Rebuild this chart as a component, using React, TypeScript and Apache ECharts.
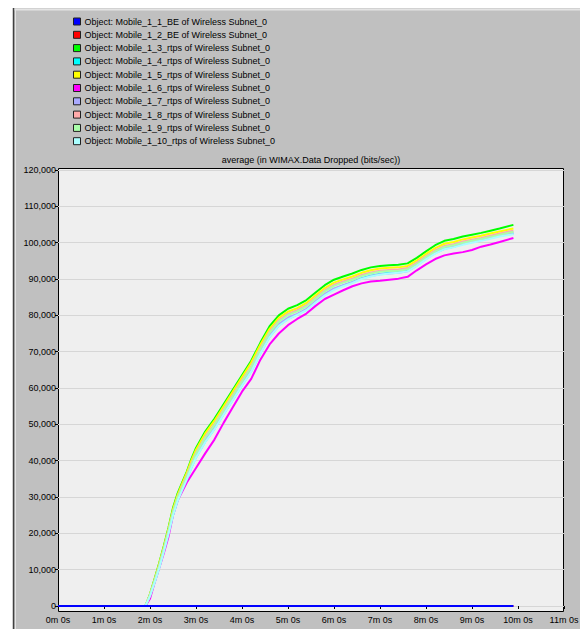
import React, { useEffect, useRef } from "react";
import * as echarts from "echarts";

// time in seconds
const timesRtps = [114,120,126,132,138,144,150,156,162,168,174,180,192,204,216,228,240,252,264,276,288,300,312,324,336,348,360,372,384,396,408,420,432,444,456,468,480,492,504,516,528,540,552,564,576,594];
const timesBE = [0, 594];

const be1 = [0, 0];
const be2 = [0, 0];
const rtps3 = [0,3300,7500,11800,16500,21500,27000,31000,34000,37000,40500,43500,48000,51500,55500,59500,63500,67500,72500,77000,80000,81800,82800,84200,86300,88300,89800,90700,91500,92500,93200,93600,93800,93900,94300,95800,97600,99300,100500,101000,101700,102200,102700,103300,103900,104900];
const rtps4 = [0,2700,6500,10500,15000,19800,25000,29000,32000,34900,38100,40900,45200,48700,52800,56800,60800,64600,69600,74100,77200,79000,80200,81600,83700,85700,87200,88200,89100,90200,90900,91400,91700,91900,92300,93800,95600,97200,98400,98900,99600,100200,100700,101300,101900,102500];
const rtps5 = [0,3200,7300,11600,16200,21200,26600,30600,33700,36700,40100,43000,47500,51000,55000,59000,63000,67000,72000,76300,79300,81000,82000,83400,85500,87500,89000,89900,90700,91700,92400,92900,93100,93200,93600,95100,96900,98500,99700,100200,100900,101400,101900,102500,103100,103900];
const rtps6 = [0,2000,6500,10500,14500,19000,25000,29000,31500,34000,36000,38000,42000,45800,50400,54700,59000,62500,67800,72000,75000,77300,79000,80500,82600,84500,85700,86900,88000,88800,89300,89500,89800,90100,90600,92400,94000,95500,96500,97000,97400,98000,98900,99500,100200,101300];
const rtps7 = [0,2800,6700,10700,15200,20000,25300,29300,32300,35200,38500,41300,45600,49100,53200,57200,61200,65000,70000,74500,77600,79400,80400,81800,83900,85900,87400,88300,89100,90100,90800,91300,91500,91700,92100,93700,95500,97100,98300,98900,99600,100200,100700,101300,101900,102800];
const rtps8 = [0,3000,7000,11200,15800,20700,26000,30000,33000,36000,39300,42200,46600,50100,54100,58100,62100,66000,71000,75500,78600,80400,81400,82800,84900,86900,88400,89300,90100,91100,91800,92300,92500,92600,93000,94500,96300,97900,99100,99600,100300,100800,101300,101900,102500,103300];
const rtps9 = [0,3000,6900,11000,15600,20500,25800,29800,32800,35700,39000,41900,46300,49800,53800,57800,61800,65700,70700,75200,78300,80100,81100,82500,84600,86600,88100,89000,89800,90800,91500,92000,92200,92300,92700,94200,96000,97600,98800,99300,100000,100500,101000,101600,102200,103000];
const rtps10 = [0,2700,6400,10400,14900,19700,24900,28900,31900,34800,38000,40800,45100,48600,52700,56700,60700,64500,69500,74000,77100,78900,80100,81400,83500,85500,87000,88000,88900,90000,90700,91200,91500,91700,92100,93600,95400,97000,98200,98700,99400,100000,100500,101100,101700,102300];

const seriesNames = [
  "Object: Mobile_1_1_BE of Wireless Subnet_0",
  "Object: Mobile_1_2_BE of Wireless Subnet_0",
  "Object: Mobile_1_3_rtps of Wireless Subnet_0",
  "Object: Mobile_1_4_rtps of Wireless Subnet_0",
  "Object: Mobile_1_5_rtps of Wireless Subnet_0",
  "Object: Mobile_1_6_rtps of Wireless Subnet_0",
  "Object: Mobile_1_7_rtps of Wireless Subnet_0",
  "Object: Mobile_1_8_rtps of Wireless Subnet_0",
  "Object: Mobile_1_9_rtps of Wireless Subnet_0",
  "Object: Mobile_1_10_rtps of Wireless Subnet_0",
];
const seriesColors = ["#0000ff","#ff0000","#00ff00","#00ffff","#ffff00","#ff00ff","#aaaaff","#ffaaaa","#aaffaa","#aaffff"];
const seriesValues = [be1, be2, rtps3, rtps4, rtps5, rtps6, rtps7, rtps8, rtps9, rtps10];
const seriesTimes = [timesBE, timesBE, timesRtps, timesRtps, timesRtps, timesRtps, timesRtps, timesRtps, timesRtps, timesRtps];

const chartTitle = "average (in WIMAX.Data Dropped (bits/sec))";

const FONT = '"Liberation Sans", Arial, sans-serif';
const FS = 9;

export default function App() {
  const ref = useRef<HTMLDivElement>(null);
  useEffect(() => {
    document.body.style.margin = "0";
    const chart = echarts.init(ref.current!, null, { renderer: "svg" });
    const series: any[] = seriesNames.map((name, i) => ({
      name,
      type: "line",
      data: seriesTimes[i].map((t, j) => [t, seriesValues[i][j]]),
      showSymbol: false,
      symbol: "none",
      color: seriesColors[i],
      lineStyle: { width: 2, color: seriesColors[i] },
      z: i === 0 ? 4 : 2,
    }));
    chart.setOption({
      animation: false,
      backgroundColor: "#ffffff",
      textStyle: { fontFamily: FONT },
      graphic: [
        { type: "rect", z: -2, silent: true, shape: { x: 13, y: 8, width: 567, height: 621 }, style: { fill: "#c0c0c0" } },
        { type: "line", z: -1, silent: true, shape: { x1: 14, y1: 9.5, x2: 580, y2: 9.5 }, style: { stroke: "#e4e4e4", lineWidth: 2 } },
        { type: "line", z: -1, silent: true, shape: { x1: 15.5, y1: 9, x2: 15.5, y2: 629 }, style: { stroke: "#e4e4e4", lineWidth: 1 } },
        { type: "line", z: -1, silent: true, shape: { x1: 13.5, y1: 8, x2: 13.5, y2: 629 }, style: { stroke: "#404040", lineWidth: 1.5 } },
        { type: "rect", z: -1, silent: true, shape: { x: 58.5, y: 168.5, width: 505, height: 443 }, style: { fill: "#efefef", stroke: "#000000", lineWidth: 1 } },
      ],
      title: {
        text: chartTitle,
        left: 311,
        top: 155,
        textAlign: "center",
        padding: 0,
        textStyle: { fontFamily: FONT, fontSize: FS, fontWeight: "normal", color: "#000000" },
      },
      legend: {
        orient: "vertical",
        left: 73,
        top: 15,
        padding: 0,
        itemWidth: 7,
        itemHeight: 7,
        itemGap: 0.3,
        icon: "rect",
        selectedMode: false,
        itemStyle: { borderColor: "#202020", borderWidth: 1 },
        textStyle: { fontFamily: FONT, fontSize: FS, color: "#000000", lineHeight: 13, padding: [0, 0, 0, -1] },
        data: seriesNames,
      },
      grid: { left: 58, right: 16, top: 170, bottom: 23, containLabel: false, outerBoundsMode: "none" },
      xAxis: {
        type: "value",
        min: 0,
        max: 660,
        interval: 60,
        offset: 6,
        axisLine: { show: false },
        axisTick: { show: true, length: 3, lineStyle: { color: "#000000" } },
        splitLine: { show: false },
        axisLabel: {
          margin: 3,
          fontFamily: FONT,
          fontSize: FS,
          color: "#000000",
          formatter: (v: number) => `${Math.round(v / 60)}m 0s`,
        },
      },
      yAxis: {
        type: "value",
        min: 0,
        max: 120000,
        interval: 10000,
        axisLine: { show: false },
        axisTick: { show: true, length: 3, lineStyle: { color: "#000000" } },
        splitLine: { show: true, lineStyle: { color: "#d6d6d6", width: 1 } },
        axisLabel: {
          margin: 2,
          fontFamily: FONT,
          fontSize: FS,
          color: "#000000",
          formatter: (v: number) => v.toLocaleString("en-US"),
        },
      },
      series,
    });
    return () => chart.dispose();
  }, []);
  return <div ref={ref} style={{ position: "fixed", left: 0, top: 0, width: 580, height: 629 }} />;
}
